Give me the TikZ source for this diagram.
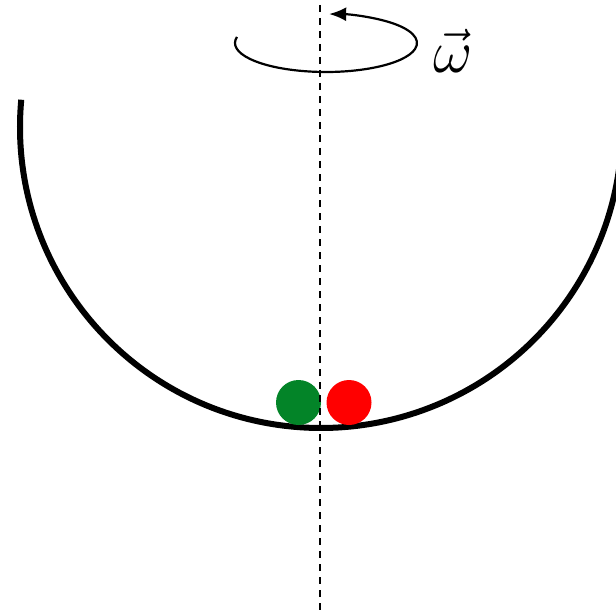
\documentclass[tikz,border=0pt]{standalone}
\usepackage{amsmath}
\usepackage{tikz}
\usepackage{xcolor}
\usetikzlibrary{arrows.meta, positioning}
\definecolor{ballgreen}{HTML}{038428}
\definecolor{ballred}{HTML}{FF0000}

\begin{document}
\begin{tikzpicture}[
            ball/.style={circle, minimum size=0.45cm, inner sep=0pt},
            axis/.style={black, line width=0.015cm, dash pattern=on 0.07cm off 0.06cm},
            bowl/.style={black, line width=0.06cm}]
            \useasboundingbox (0,0) rectangle (6.16,6.15);
            \clip (0,0) rectangle (6.16,6.15);
            % Bowl
            \draw[bowl] (3.21,4.88) ++(174.8:3.01) arc[start angle=174.8, end angle=365.2, radius=3.01];
            % Balls
            \node[ball, fill=ballgreen] (green) at (2.985,2.125) {};
            \node[ball, fill=ballred] (red) at (3.49,2.125) {};
            % Rotation
            \draw[line width=0.022cm, -{Latex[length=0.17cm, width=0.14cm]}]
                (3.26,5.72) ++(168:0.91 and 0.29) arc[start angle=168, end angle=448, x radius=0.91, y radius=0.29];
            \node[font=\LARGE, anchor=base, inner sep=0pt] (omega) at (4.53,5.42) {$\vec{\omega}$};
            % Axis
            \coordinate (top) at (3.20,6.10);
            \coordinate (bot) at (3.20,0.04);
            \draw[axis] (top) -- (bot);
        \end{tikzpicture}
\end{document}
